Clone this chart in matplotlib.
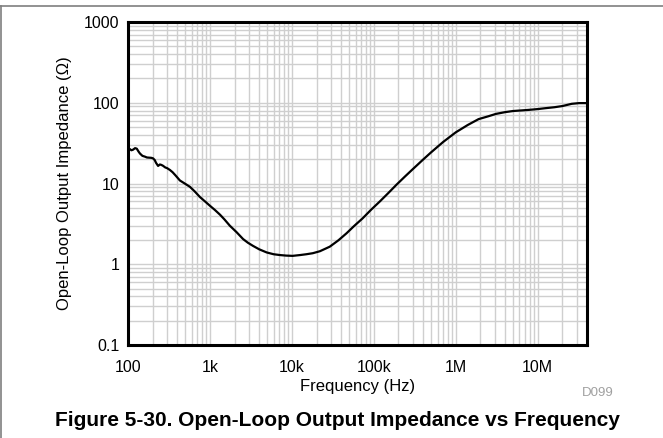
import matplotlib
matplotlib.use("Agg")
import matplotlib.pyplot as plt
from matplotlib.lines import Line2D
from matplotlib.ticker import LogLocator, FixedLocator, FixedFormatter, NullFormatter

plt.rcParams['font.family'] = ['Liberation Sans', 'DejaVu Sans']

freq_hz = [100, 104, 110, 115, 122, 128, 134, 140, 150, 161, 170, 180, 192, 202, 212, 220,
           233, 245, 255, 267, 285, 300, 325, 350, 380, 430, 470, 500, 570, 650, 755, 870,
           1000, 1150, 1330, 1500, 1750, 2110, 2540, 2900, 3350, 4000, 4930, 6000, 7140,
           8500, 10200, 12600, 15000, 18000, 22000, 29000, 37000, 46500, 58000, 73000,
           92000, 118000, 150000, 188000, 240000, 300000, 400000, 500000, 700000, 1.0e6,
           1.4e6, 1.9e6, 2.5e6, 3.1e6, 4.0e6, 5.0e6, 6.5e6, 7.9e6, 1.0e7, 1.25e7, 1.6e7,
           2.0e7, 2.6e7, 3.2e7, 4.0e7]
impedance_ohm = [26.5, 26.9, 25.8, 26.2, 27.4, 27.0, 25.0, 23.5, 22.0, 21.5, 21.0, 20.9, 20.8, 20.5,
                 19.5, 18.0, 16.5, 17.2, 17.0, 16.6, 15.8, 15.5, 14.7, 13.8, 12.6, 10.9, 10.3,
                 9.9, 9.1, 8.0, 6.8, 6.0, 5.3, 4.7, 4.1, 3.6, 3.0, 2.5, 2.05, 1.85, 1.69, 1.53,
                 1.40, 1.33, 1.30, 1.28, 1.27, 1.30, 1.33, 1.37, 1.45, 1.65, 1.98, 2.42, 3.0,
                 3.7, 4.7, 5.97, 7.6, 9.6, 12.2, 15.1, 19.8, 24.3, 32.6, 43.0, 53.0, 62.7, 68.0,
                 72.8, 76.5, 79.0, 80.5, 81.7, 83.5, 85.7, 88.0, 91.0, 97.0, 99.0, 99.0]

x_ticks = [100, 1e3, 1e4, 1e5, 1e6, 1e7]
x_labels = ['100', '1k', '10k', '100k', '1M', '10M']
y_ticks = [0.1, 1, 10, 100, 1000]
y_labels = ['0.1', '1', '10', '100', '1000']

W, H = 663, 438
fig = plt.figure(figsize=(W / 100, H / 100), dpi=100)
ax = fig.add_axes([128 / W, 1 - 345 / H, 459 / W, 323 / H])

ax.plot(freq_hz, impedance_ohm, color='black', lw=1.6, zorder=3)
ax.set_xscale('log')
ax.set_yscale('log')
ax.set_xlim(100, 4e7)
ax.set_ylim(0.1, 1000)

ax.xaxis.set_major_locator(FixedLocator(x_ticks))
ax.xaxis.set_major_formatter(FixedFormatter(x_labels))
ax.yaxis.set_major_locator(FixedLocator(y_ticks))
ax.yaxis.set_major_formatter(FixedFormatter(y_labels))
ax.xaxis.set_minor_locator(LogLocator(base=10, subs=range(2, 10), numticks=20))
ax.yaxis.set_minor_locator(LogLocator(base=10, subs=range(2, 10), numticks=20))
ax.xaxis.set_minor_formatter(NullFormatter())
ax.yaxis.set_minor_formatter(NullFormatter())

ax.grid(True, which='both', color='#cfcfcf', lw=1.0)
ax.set_axisbelow(True)
ax.tick_params(which='both', length=0)
ax.tick_params(axis='x', labelsize=11.5, pad=11)
ax.tick_params(axis='y', labelsize=11.5, pad=6)
for s in ax.spines.values():
    s.set_linewidth(2.2)
    s.set_color('black')

ax.set_xlabel('Frequency (Hz)', fontsize=12, labelpad=3)
ax.set_ylabel('Open-Loop Output Impedance (Ω)', fontsize=12, labelpad=9)

fig.text(598 / W, 1 - 393 / H, 'D099', fontsize=9.5, color='#a0a0a0', ha='center', va='center')
fig.text(337 / W, 1 - 420 / H, 'Figure 5-30. Open-Loop Output Impedance vs Frequency',
         fontsize=15, fontweight='bold', ha='center', va='center')

fig.add_artist(Line2D([0, 1], [1 - 5.5 / H, 1 - 5.5 / H], transform=fig.transFigure,
                      color='#7f7f7f', lw=1.2))
fig.add_artist(Line2D([1 / W, 1 / W], [0, 1 - 5.5 / H], transform=fig.transFigure,
                      color='#7f7f7f', lw=1.2))

fig.savefig('out.png', dpi=100)
